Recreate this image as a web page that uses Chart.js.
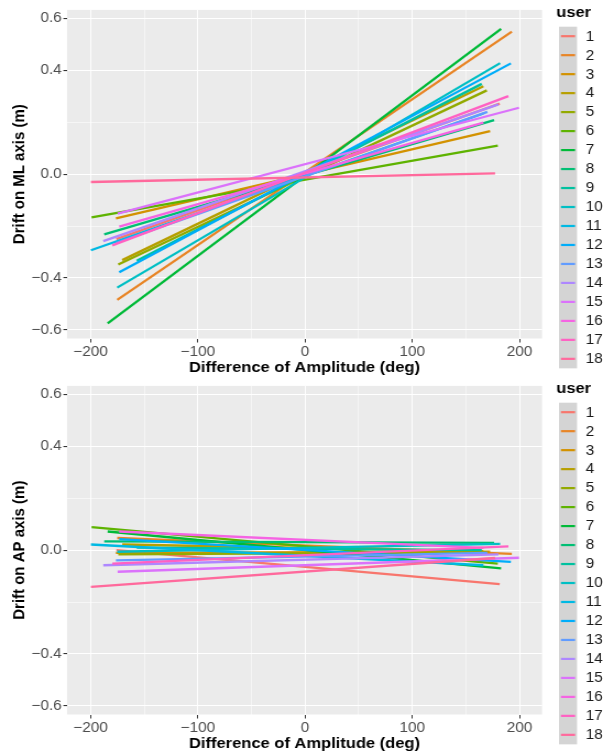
<!DOCTYPE html>
<html>
<head>
<meta charset="utf-8">
<script src="https://cdn.jsdelivr.net/npm/chart.js@4.4.1/dist/chart.umd.min.js"></script>
<style>
  html, body { margin: 0; padding: 0; background: #ffffff; }
  #wrap { position: relative; width: 603px; height: 756px; overflow: hidden; }
  canvas { position: absolute; left: 0; }
</style>
</head>
<body>
<div id="wrap">
  <canvas id="c1" width="548" height="378" style="top:0px;width:603px;height:378px"></canvas>
  <canvas id="c2" width="548" height="378" style="top:376px;width:603px;height:378px"></canvas>
</div>
<script>
// ---------------- DATA ----------------
const users = ["1","2","3","4","5","6","7","8","9","10","11","12","13","14","15","16","17","18"];
// x range (Difference of Amplitude, deg) of each user's fitted line
const xStart = [-176, -175.2, -176.4, -170.5, -174.2, -199.1, -184.1, -187.3, -157, -175.2, -199.7, -173.3, -176.4, -188.2, -174.8, -173.3, -179.8, -199.7];
const xEnd   = [181.5, 192.8, 172.6, 166.3, 169.5, 179.7, 182.8, 176.3, 164.8, 181.9, 166.3, 191.9, 170, 180.3, 199.5, 166.3, 189.6, 177.2];
// Drift on ML axis (m) at line ends
const mlStart = [-0.250, -0.484, -0.170, -0.331, -0.348, -0.166, -0.575, -0.232, -0.333, -0.437, -0.293, -0.378, -0.265, -0.258, -0.152, -0.202, -0.274, -0.030];
const mlEnd   = [0.272, 0.549, 0.166, 0.339, 0.323, 0.110, 0.560, 0.208, 0.348, 0.428, 0.234, 0.427, 0.240, 0.269, 0.256, 0.199, 0.301, 0.003];
// Drift on AP axis (m) at line ends
const apStart = [0.000, 0.047, -0.010, 0.022, -0.016, 0.089, 0.072, 0.034, 0.010, -0.006, 0.022, 0.043, -0.039, -0.058, -0.083, 0.072, -0.052, -0.141];
const apEnd   = [-0.131, -0.014, -0.006, -0.004, -0.008, -0.052, -0.070, 0.028, 0.000, 0.024, -0.058, -0.045, -0.010, -0.016, -0.029, 0.009, 0.015, -0.030];
// tick labels
const xTickValues = [-200, -150, -100, -50, 0, 50, 100, 150, 200];
const xTickLabels = ["\u2212200", "", "\u2212100", "", "0", "", "100", "", "200"];
const yTickValues = [-0.6, -0.4, -0.2, 0, 0.2, 0.4, 0.6];
const yTickLabels = ["\u22120.6", "\u22120.4", "", "0.0", "", "0.4", "0.6"];

// ---------------- STYLE ----------------
const palette = ["#F8766D","#E88526","#D39200","#B79F00","#93AA00","#5EB300","#00BA38","#00BF74","#00C19F",
                 "#00BFC4","#00B9E3","#00ADFA","#619CFF","#AE87FF","#DB72FB","#F564E3","#FF61C3","#FF699C"];
const FONT = "'Liberation Sans', Arial, Helvetica, sans-serif";

function isMajorX(v) { const i = xTickValues.indexOf(v); return i >= 0 && xTickLabels[i] !== ""; }
function isMajorY(v) { const i = yTickValues.findIndex(t => Math.abs(t - v) < 1e-9); return i >= 0 && yTickLabels[i] !== ""; }

const panelBg = {
  id: 'panelBg',
  beforeDraw(chart) {
    const a = chart.chartArea, ctx = chart.ctx;
    ctx.save();
    ctx.fillStyle = '#EBEBEB';
    ctx.fillRect(a.left, a.top, a.right - a.left, a.bottom - a.top);
    ctx.restore();
  }
};

const ggLegend = {
  id: 'ggLegend',
  afterDraw(chart) {
    const ctx = chart.ctx;
    const ds = chart.data.datasets;
    ctx.save();
    ctx.fillStyle = '#000';
    ctx.font = 'bold 15px ' + FONT;
    ctx.textAlign = 'left';
    ctx.textBaseline = 'middle';
    ctx.fillText('user', 505.5, 12.5);
    const top = 26.7, step = 18.98;
    ctx.fillStyle = '#D4D4D4';
    ctx.fillRect(508, top, 16.4, step * ds.length);
    ds.forEach((d, i) => {
      const cy = top + step / 2 + step * i;
      ctx.strokeStyle = d.borderColor;
      ctx.lineWidth = 2.2;
      ctx.beginPath();
      ctx.moveTo(509.8, cy);
      ctx.lineTo(522.6, cy);
      ctx.stroke();
      ctx.fillStyle = '#1A1A1A';
      ctx.font = '14px ' + FONT;
      ctx.fillText(d.label, 532.3, cy + 0.5);
    });
    ctx.restore();
  }
};

function makeDatasets(yStart, yEnd) {
  return users.map((u, i) => ({
    label: u,
    data: [{ x: xStart[i], y: yStart[i] }, { x: xEnd[i], y: yEnd[i] }],
    borderColor: palette[i],
    backgroundColor: palette[i],
    borderWidth: 2.3,
    showLine: true,
    pointRadius: 0,
    pointHoverRadius: 0,
    fill: false,
    order: users.length - i
  }));
}

function makeChart(id, yTitle, yStart, yEnd) {
  return new Chart(document.getElementById(id), {
    type: 'scatter',
    data: { datasets: makeDatasets(yStart, yEnd) },
    plugins: [panelBg, ggLegend],
    options: {
      responsive: false,
      animation: false,
      devicePixelRatio: 1,
      layout: { padding: { top: 7, right: 55.4, left: 0, bottom: 0 } },
      plugins: { legend: { display: false }, tooltip: { enabled: false } },
      scales: {
        x: {
          type: 'linear',
          min: -222, max: 221,
          afterBuildTicks: s => { s.ticks = xTickValues.map(v => ({ value: v })); },
          afterFit: s => { s.height = 39.5; },
          border: { display: false },
          grid: {
            color: '#FFFFFF',
            lineWidth: c => (c.tick && isMajorX(c.tick.value)) ? 1.0 : 0.5,
            drawTicks: true,
            tickLength: 4,
            tickWidth: 1,
            tickColor: c => (c.tick && isMajorX(c.tick.value)) ? '#333333' : 'rgba(0,0,0,0)'
          },
          ticks: {
            autoSkip: false, maxRotation: 0, minRotation: 0, padding: 1,
            color: '#4D4D4D', font: { family: FONT, size: 14 },
            callback: v => { const i = xTickValues.indexOf(v); return i >= 0 ? xTickLabels[i] : ''; }
          },
          title: {
            display: true, text: 'Difference of Amplitude (deg)', color: '#000000',
            font: { family: FONT, size: 15, weight: 'bold' },
            padding: { top: 0, bottom: 1 }
          }
        },
        y: {
          type: 'linear',
          min: -0.633, max: 0.633,
          afterBuildTicks: s => { s.ticks = yTickValues.map(v => ({ value: v })); },
          afterFit: s => { s.width = 60.9; },
          border: { display: false },
          grid: {
            color: '#FFFFFF',
            lineWidth: c => (c.tick && isMajorY(c.tick.value)) ? 1.1 : 0.55,
            drawTicks: true,
            tickLength: 3.3,
            tickWidth: 1.1,
            tickColor: c => (c.tick && isMajorY(c.tick.value)) ? '#333333' : 'rgba(0,0,0,0)'
          },
          ticks: {
            autoSkip: false, padding: 1.5,
            color: '#4D4D4D', font: { family: FONT, size: 14 },
            callback: v => { const i = yTickValues.findIndex(t => Math.abs(t - v) < 1e-9); return i >= 0 ? yTickLabels[i] : ''; }
          },
          title: {
            display: true, text: yTitle, color: '#000000',
            font: { family: FONT, size: 15, weight: 'bold' },
            padding: { top: 9.2, bottom: 0 }
          }
        }
      }
    }
  });
}

makeChart('c1', 'Drift on ML axis (m)', mlStart, mlEnd);
makeChart('c2', 'Drift on AP axis (m)', apStart, apEnd);
</script>
</body>
</html>
